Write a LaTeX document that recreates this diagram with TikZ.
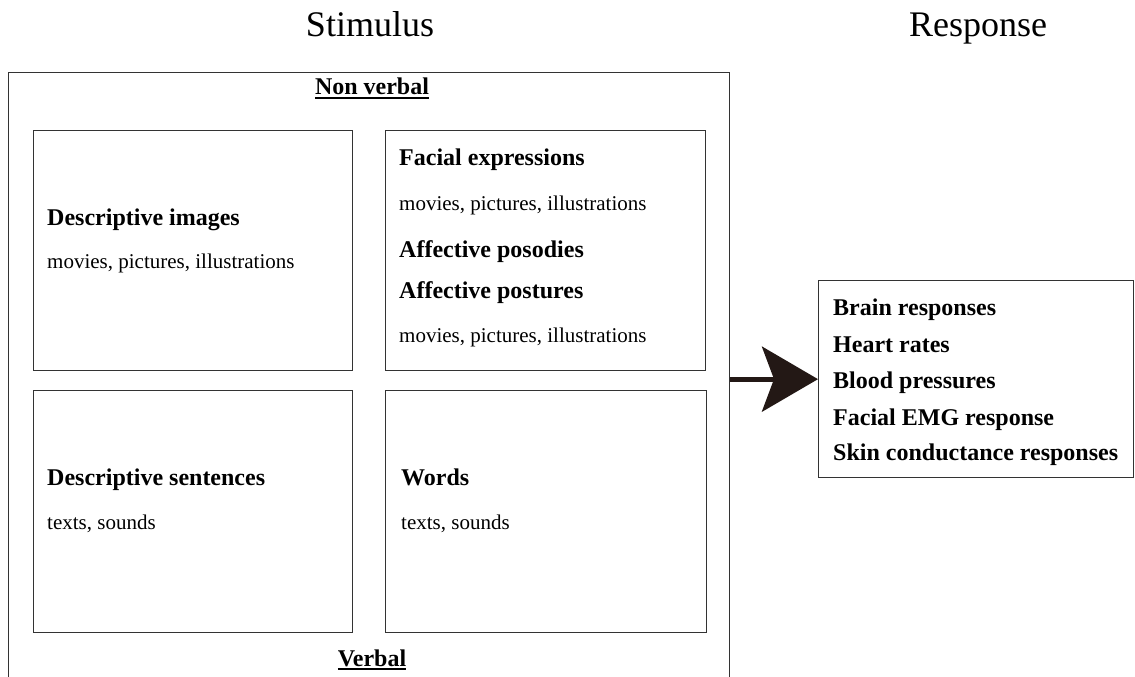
\documentclass[tikz,border=0pt]{standalone}
\usepackage{fontspec}
\setmainfont{Liberation Serif}
\usetikzlibrary{arrows.meta}
\definecolor{arrc}{HTML}{231815}
\definecolor{linec}{HTML}{333333}
\newcommand{\myul}[1]{\leavevmode\vtop{\hbox{#1}\kern1.5pt\hrule height 2pt}}
\begin{document}
\begin{tikzpicture}[x=1pt,y=-1pt,
  box/.style={draw=linec, line width=1.3pt, inner sep=0pt, anchor=north west},
  hd/.style={font=\bfseries\fontsize{24}{28}\selectfont, anchor=base west, inner sep=0pt},
  sub/.style={font=\fontsize{21}{25}\selectfont, anchor=base west, inner sep=0pt},
  ttl/.style={font=\fontsize{36}{42}\selectfont, anchor=base, inner sep=0pt},
  lbl/.style={font=\bfseries\fontsize{24}{28}\selectfont, anchor=base, inner sep=0pt},
  arr/.style={draw=arrc, line width=5pt, -{Stealth[length=56pt,width=65pt,inset=12pt]}}]
\useasboundingbox (0,0) rectangle (1135,677);
% titles
\node[ttl] (stim) at (370,37) {Stimulus};
\node[ttl] (resptitle) at (978,37) {Response};
% outer stimulus frame (bottom edge lies below the page)
\node[box, minimum width=721pt, minimum height=640pt] (outer) at (8,72) {};
\node[lbl] (nonverbal) at (372,95) {\myul{Non verbal}};
\node[lbl] (verbal) at (372,666) {\myul{Verbal}};
% inner boxes
\node[box, minimum width=319pt, minimum height=240pt] (b1) at (33,130) {};
\node[box, minimum width=320pt, minimum height=240pt] (b2) at (385,130) {};
\node[box, minimum width=319pt, minimum height=242pt] (b3) at (33,390) {};
\node[box, minimum width=321pt, minimum height=242pt] (b4) at (385,390) {};
% box 1
\node[hd] (t1a) at (47,225) {Descriptive images};
\node[sub] (t1b) at (47,268) {movies, pictures, illustrations};
% box 2
\node[hd] (t2a) at (399,165) {Facial expressions};
\node[sub] (t2b) at (399,210) {movies, pictures, illustrations};
\node[hd] (t2c) at (399,257) {Affective posodies};
\node[hd] (t2d) at (399,298) {Affective postures};
\node[sub] (t2e) at (399,342) {movies, pictures, illustrations};
% box 3
\node[hd] (t3a) at (47,485) {Descriptive sentences};
\node[sub] (t3b) at (47,529) {texts, sounds};
% box 4
\node[hd] (t4a) at (401,485) {Words};
\node[sub] (t4b) at (401,529) {texts, sounds};
% response box
\node[box, minimum width=315pt, minimum height=197pt] (resp) at (818,280) {};
\node[hd] (r1) at (833,315) {Brain responses};
\node[hd] (r2) at (833,352) {Heart rates};
\node[hd] (r3) at (833,388) {Blood pressures};
\node[hd] (r4) at (833,425) {Facial EMG response};
\node[hd] (r5) at (833,460) {Skin conductance responses};
% arrow
\draw[arr] (outer.east |- resp.west) -- (resp.west);
\end{tikzpicture}
\end{document}
